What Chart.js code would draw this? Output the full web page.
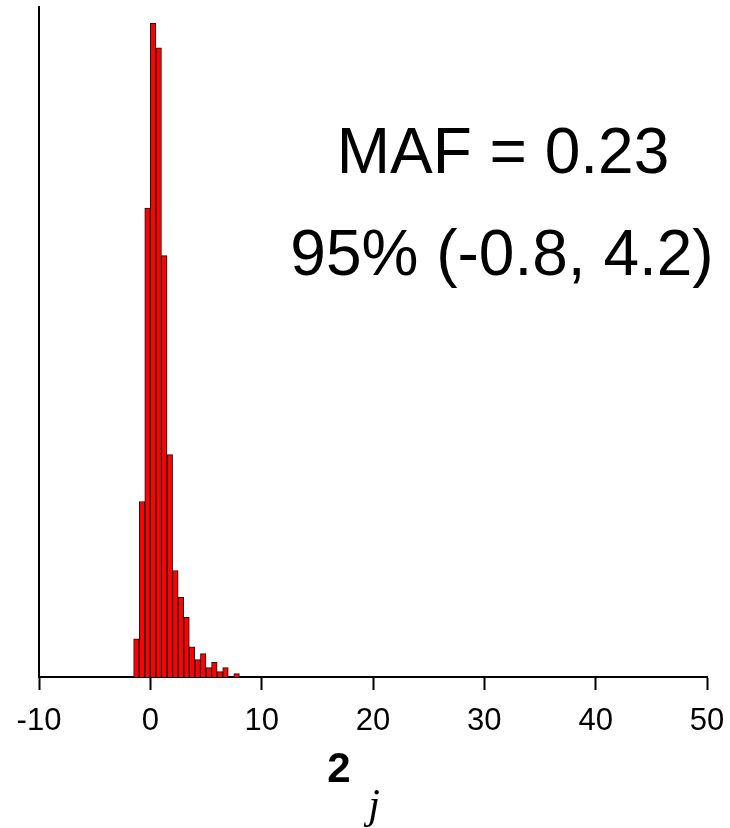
<!DOCTYPE html>
<html>
<head>
<meta charset="utf-8">
<script src="https://cdn.jsdelivr.net/npm/chart.js@4.4.1/dist/chart.umd.min.js"></script>
<style>
  html, body { margin: 0; padding: 0; background: #fff; }
  #wrap { width: 730px; height: 828px; }
</style>
</head>
<body>
<div id="wrap"><canvas id="myChart" width="730" height="828"></canvas></div>
<script>
"use strict";

// histogram bins (centre of each 0.5 wide bin) and their heights
let binCenters = [-1.25, -0.75, -0.25, 0.25, 0.75, 1.25, 1.75, 2.25, 2.75, 3.25,
  3.75, 4.25, 4.75, 5.25, 5.75, 6.25, 6.75, 7.25, 7.75];
let binCounts = [57, 262, 700, 976, 939, 629, 332, 159, 119, 89,
  45, 26, 35, 14, 22, 8, 14, 0, 5];

let xTicks = [-10, 0, 10, 20, 30, 40, 50];
let yMax = 1000;

let noteLines = ['MAF = 0.23', '95% (-0.8, 4.2)'];
let axisTitle = '2';
let axisSymbol = 'j';

let points = [];
for (let i = 0; i < binCenters.length; i++) {
  points.push({ x: binCenters[i], y: binCounts[i] });
}

let textPlugin = {
  id: 'textPlugin',
  afterDraw(chart) {
    let ctx = chart.ctx;
    ctx.save();
    ctx.fillStyle = '#000';
    ctx.textAlign = 'center';
    ctx.textBaseline = 'alphabetic';
    ctx.font = '64px "Liberation Sans", Arial, sans-serif';
    ctx.fillText(noteLines[0], 503, 173);
    ctx.fillText(noteLines[1], 502, 275);
    ctx.font = 'bold 42px "Liberation Sans", Arial, sans-serif';
    ctx.fillText(axisTitle, 339, 782);
    ctx.font = 'italic 42px "Liberation Serif", "Times New Roman", serif';
    ctx.fillText(axisSymbol, 374, 818);
    ctx.restore();
  }
};

let chartObject = {
  type: 'bar',
  data: {
    datasets: [{
      data: points,
      backgroundColor: 'rgb(255, 0, 0)',
      borderColor: '#111',
      borderWidth: 1,
      borderSkipped: 'start',
      barPercentage: 1.0,
      categoryPercentage: 1.0
    }]
  },
  options: {
    responsive: false,
    animation: false,
    devicePixelRatio: 1,
    layout: { padding: { top: 7, left: 39, right: 23, bottom: 90 } },
    plugins: {
      legend: { display: false },
      tooltip: { enabled: false }
    },
    scales: {
      x: {
        type: 'linear',
        min: -10,
        max: 50,
        offset: false,
        afterBuildTicks(scale) {
          scale.ticks = xTicks.map(v => ({ value: v }));
        },
        afterFit(scale) {
          scale.height = 61;
          scale.paddingLeft = 0;
          scale.paddingRight = 0;
        },
        grid: {
          offset: false,
          drawOnChartArea: false,
          drawTicks: true,
          tickLength: 13,
          tickColor: '#000',
          tickWidth: 2
        },
        border: { display: true, color: '#000', width: 2 },
        ticks: {
          color: '#000',
          padding: 13,
          maxRotation: 0,
          autoSkip: false,
          font: { family: '"Liberation Sans", Arial, sans-serif', size: 31 }
        }
      },
      y: {
        min: 0,
        max: yMax,
        afterFit(scale) { scale.width = 0; },
        grid: { display: false, drawTicks: false },
        border: { display: true, color: '#000', width: 2 },
        ticks: { display: false }
      }
    }
  },
  plugins: [textPlugin]
};

let ctx = document.getElementById('myChart').getContext('2d');
let myChart = new Chart(ctx, chartObject);
</script>
</body>
</html>
